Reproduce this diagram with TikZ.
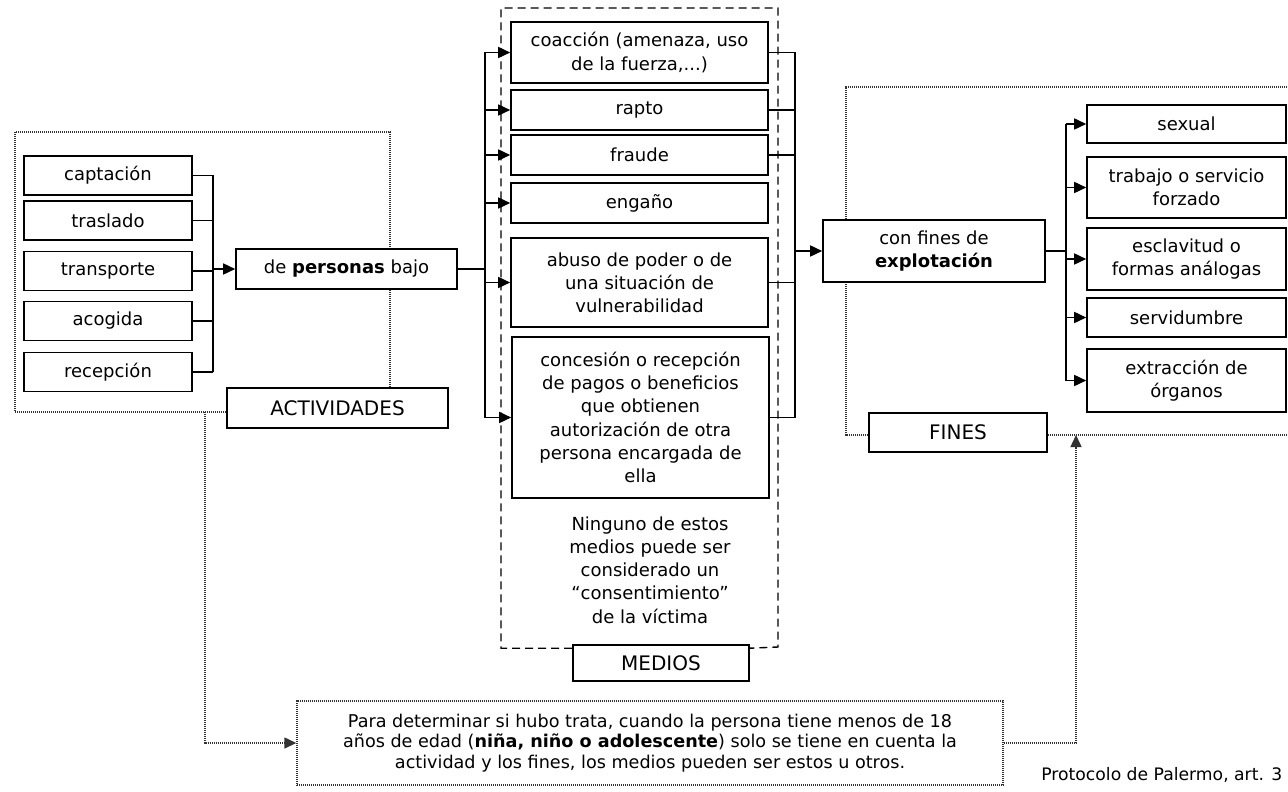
\documentclass[tikz,border=0pt]{standalone}
\usepackage{fontspec}
\setmainfont{DejaVu Sans}
\usepackage{xcolor}
\usepackage{tikz}
\usetikzlibrary{arrows.meta, positioning, backgrounds, calc}
\definecolor{framegray}{RGB}{50, 50, 50}
\newcommand{\bodyfont}{\fontsize{9}{11.6}\selectfont}
\newcommand{\notefont}{\fontsize{8.8}{10.3}\selectfont}
\newcommand{\labfont}{\fontsize{10}{12}\selectfont}

\begin{document}
\begin{tikzpicture}[
    x=0.5pt, y=-0.5pt,
    box/.style={draw, line width=0.8pt, fill=white, align=center, inner sep=1pt, font=\bodyfont},
    labelbox/.style={box, font=\labfont},
    actbox/.style={box, minimum width=84pt, minimum height=19.5pt},
    medbox/.style={box, minimum width=128.5pt},
    finbox/.style={box, minimum width=99.5pt},
    link/.style={line width=0.8pt},
    arr/.style={link, -{Triangle[length=6pt, width=5.5pt]}},
    frame/.style={line width=0.7pt, draw=framegray, dash pattern=on 0.55pt off 0.45pt},
    dashframe/.style={line width=0.7pt, dash pattern=on 4pt off 2.5pt},
    dotarr/.style={frame, -{Triangle[length=6pt, width=5.5pt]}}
]
    \useasboundingbox (0,0) rectangle (1288,791);

    % Actividades
    \node[actbox] (cap) at (108,175.5) {captación};
    \node[actbox] (tras) at (108,220.5) {traslado};
    \node[actbox] (trans) at (108,271) {transporte};
    \node[actbox] (aco) at (108,321) {acogida};
    \node[actbox] (rec) at (108,372) {recepción};
    \node[box, minimum width=110.5pt, minimum height=20pt] (per) at (346.5,269) {de \textbf{personas} bajo};
    \node[labelbox, minimum width=110.5pt, minimum height=20pt] (act) at (337.5,408) {ACTIVIDADES};

    % Medios
    \node[medbox, minimum height=30.5pt] (coa) at (639.5,52.5) {coacción (amenaza, uso\\de la fuerza,...)};
    \node[medbox, minimum height=20pt] (rap) at (639.5,110) {rapto};
    \node[medbox, minimum height=20pt] (fra) at (639.5,155) {fraude};
    \node[medbox, minimum height=20pt] (eng) at (639.5,203) {engaño};
    \node[medbox, minimum height=44.5pt] (abu) at (639.5,282.5) {abuso de poder o de\\una situación de\\vulnerabilidad};
    \node[medbox, minimum height=80.5pt] (con) at (640.5,417.5) {concesión o recepción\\de pagos o beneficios\\que obtienen\\autorización de otra\\persona encargada de\\ella};
    \node[font=\bodyfont, align=center] (nin) at (650,570) {Ninguno de estos\\medios puede ser\\considerado un\\“consentimiento”\\de la víctima};
    \node[labelbox, minimum width=88pt, minimum height=18pt] (med) at (661,663) {MEDIOS};

    % Fines
    \node[box, minimum width=111pt, minimum height=31pt] (fin) at (934,251) {con fines de\\\textbf{explotación}};
    \node[labelbox, minimum width=89pt, minimum height=19.5pt] (fines) at (958,432.5) {FINES};
    \node[finbox, minimum height=19pt] (sex) at (1186.5,124) {sexual};
    \node[finbox, minimum height=30.5pt] (tra) at (1186.5,187.5) {trabajo o servicio\\forzado};
    \node[finbox, minimum height=31pt] (esc) at (1186.5,259) {esclavitud o\\formas análogas};
    \node[finbox, minimum height=19.5pt] (ser) at (1186.5,317.5) {servidumbre};
    \node[finbox, minimum height=31.5pt] (ext) at (1186.5,380.5) {extracción de\\órganos};

    % Nota inferior
    \node[box, frame, fill=white, text=black, font=\notefont, minimum width=353pt, minimum height=42pt] (bot) at (650,743)
        {Para determinar si hubo trata, cuando la persona tiene menos de 18\\años de edad (\textbf{niña, niño o adolescente}) solo se tiene en cuenta la\\actividad y los fines, los medios pueden ser estos u otros.};
    \node[anchor=west, font=\fontsize{8.6}{10}\selectfont, inner sep=0pt] (src) at (1041,775) {Protocolo de Palermo, art. 3};

    % Bracket points
    \coordinate (actbr) at (213,0);
    \coordinate (medl) at (485,0);
    \coordinate (medr) at (795,0);
    \coordinate (finbr) at (1066,0);

    % Actividades -> personas
    \foreach \n in {cap,tras,trans,aco,rec}
        \draw[link] (\n.east) -- (\n.east -| actbr);
    \draw[link] (cap.east -| actbr) -- (rec.east -| actbr);
    \draw[arr] (per.west -| actbr) -- (per.west);

    % personas -> medios
    \draw[link] (per.east) -- (per.east -| medl);
    \draw[link] (coa.west -| medl) -- (con.west -| medl);
    \foreach \n in {coa,rap,fra,eng,abu,con}
        \draw[arr] (\n.west -| medl) -- (\n.west);

    % medios -> fines
    \foreach \n in {coa,rap,fra,abu,con}
        \draw[link] (\n.east) -- (\n.east -| medr);
    \draw[link] (coa.east -| medr) -- (con.east -| medr);
    \draw[arr] (fin.west -| medr) -- (fin.west);

    % fines -> tipos
    \draw[link] (fin.east) -- (fin.east -| finbr);
    \draw[link] (sex.west -| finbr) -- (ext.west -| finbr);
    \foreach \n in {sex,tra,esc,ser,ext}
        \draw[arr] (\n.west -| finbr) -- (\n.west);

    % Frames
    \coordinate (actout) at (205,412);
    \coordinate (finin) at (1076,435);
    \begin{scope}[on background layer]
        \draw[frame] (act.west |- actout) -| (15,132) -| (390,0 |- act.north);
        \draw[dashframe] ([yshift=-2pt]med.north west) -| (501,8) -| (778,647) -- ([yshift=-2pt]med.north east);
        \draw[frame] (fines.west |- finin) -| (846,87) -- (1288,87);
        \draw[frame] (fines.east |- finin) -- (1288,435);
    \end{scope}

    % Nota
    \draw[dotarr] (actout) |- (bot.west);
    \draw[dotarr] (bot.east) -| (finin);

\end{tikzpicture}
\end{document}
